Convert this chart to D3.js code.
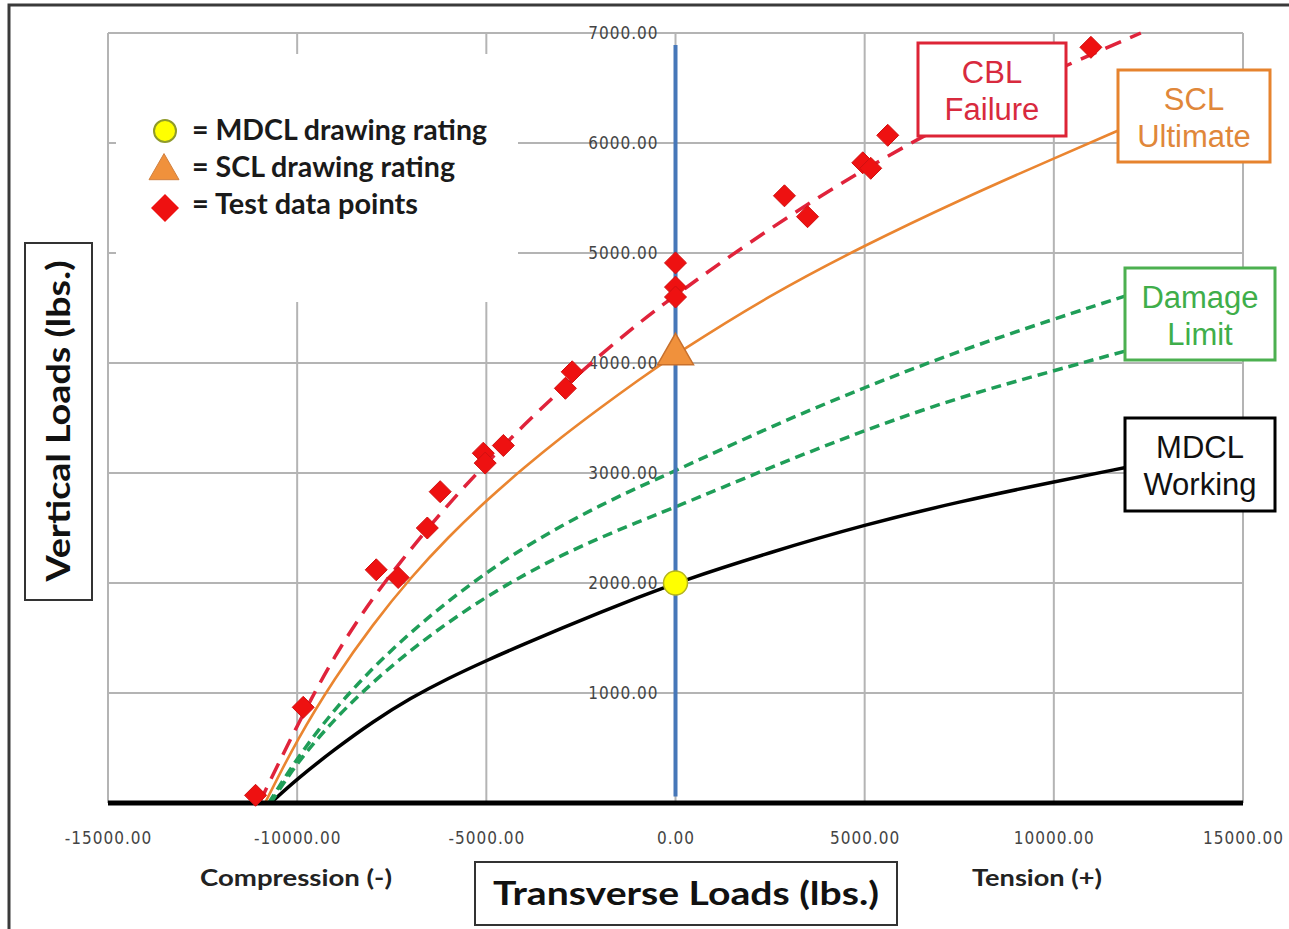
<!DOCTYPE html>
<html>
<head>
<meta charset="utf-8">
<script src="https://cdn.jsdelivr.net/npm/d3@7"></script>
<style>
  body { margin: 0; background: #fff; }
  svg { display: block; }
  .tick text {
    font-family: 'DejaVu Sans Condensed', 'DejaVu Sans', sans-serif;
    font-size: 17px;
    fill: #444;
    letter-spacing: 1px;
  }
</style>
</head>
<body>
<script>
const width = 1289
const height = 929

// axis ticks
const xTicks = [-15000, -10000, -5000, 0, 5000, 10000, 15000]
const yTicks = [1000, 2000, 3000, 4000, 5000, 6000, 7000]

// CBL failure (red dashed)
const cblX = [-11000, -10000, -9000, -8000, -7000, -6000, -5000, -4000, -3000, -2000, -1000, 0, 2500, 5000, 7500, 10000, 12300]
const cblY = [0, 710, 1350, 1870, 2310, 2720, 3090, 3440, 3765, 4070, 4355, 4620, 5230, 5770, 6240, 6660, 7000]

// SCL ultimate (orange)
const sclX = [-10850, -10000, -9000, -8000, -7000, -6000, -5000, -4000, -3000, -2000, -1000, 0, 2500, 5000, 7500, 10000, 11750]
const sclY = [0, 580, 1140, 1625, 2050, 2420, 2750, 3050, 3330, 3590, 3840, 4080, 4620, 5070, 5480, 5860, 6120]

// damage limit, upper and lower (green dashed)
const dmgAX = [-10750, -10000, -9000, -8000, -7000, -6000, -5000, -4000, -3000, -2000, -1000, 0, 2500, 5000, 7500, 10000, 11900]
const dmgAY = [0, 413, 860, 1230, 1553, 1838, 2095, 2323, 2523, 2703, 2869, 3020, 3420, 3780, 4110, 4400, 4610]
const dmgBX = [-10700, -10000, -9000, -8000, -7000, -6000, -5000, -4000, -3000, -2000, -1000, 0, 2500, 5000, 7500, 10000, 11900]
const dmgBY = [0, 370, 770, 1100, 1390, 1645, 1875, 2075, 2255, 2410, 2555, 2690, 3050, 3390, 3690, 3930, 4110]

// MDCL working (black)
const mdclX = [-10700, -10000, -9000, -8000, -7000, -6000, -5000, -4000, -3000, -2000, -1000, 0, 2500, 5000, 7500, 10000, 11900]
const mdclY = [0, 220, 490, 740, 955, 1135, 1295, 1445, 1590, 1732, 1868, 2000, 2280, 2530, 2740, 2920, 3050]

// test data points
const testX = [-11100, -9840, -7910, -7330, -6560, -6220, -5080, -5030, -4550, -2910, -2730, 0, 0, 0, 2880, 3490, 4950, 5160, 5610, 10980]
const testY = [70, 870, 2120, 2050, 2500, 2830, 3180, 3090, 3250, 3770, 3920, 4910, 4690, 4600, 5520, 5330, 5820, 5770, 6070, 6870]

// drawing ratings
const mdclRating = [0, 2000]
const sclRating = [0, 4080]

// vertical axis bar at x = 0
const zeroBar = [60, 6890]

const legendItems = ['= MDCL drawing rating', '= SCL drawing rating', '= Test data points']

const zip = (xs, ys) => xs.map((v, i) => [v, ys[i]])

const svg = d3.select('body').append('svg')
  .attr('width', width)
  .attr('height', height)

const x = d3.scaleLinear().domain([-15000, 15000]).range([108, 1243])
const y = d3.scaleLinear().domain([0, 7000]).range([803, 33])

// outer frame (cut at right and bottom)
svg.append('path')
  .attr('d', `M9,${height} V5 H${width}`)
  .attr('fill', 'none')
  .attr('stroke', '#3a3a3a')
  .attr('stroke-width', 3)

// grid
const grid = svg.append('g').attr('stroke', '#b4b4b4').attr('stroke-width', 2)
grid.selectAll('.h')
  .data(yTicks)
  .enter().append('line')
    .attr('x1', x(-15000)).attr('x2', x(15000))
    .attr('y1', d => y(d)).attr('y2', d => y(d))
grid.selectAll('.v')
  .data(xTicks)
  .enter().append('line')
    .attr('x1', d => x(d)).attr('x2', d => x(d))
    .attr('y1', y(7000)).attr('y2', y(0))

// white patch behind the legend
svg.append('rect')
  .attr('x', 116).attr('y', 54)
  .attr('width', 402).attr('height', 248)
  .attr('fill', '#fff')

// axes
const xAxis = svg.append('g')
  .attr('transform', `translate(0,${y(0)})`)
  .call(d3.axisBottom(x).tickValues(xTicks).tickSize(0).tickPadding(29).tickFormat(d => d.toFixed(2)))
xAxis.select('.domain').remove()

const yAxis = svg.append('g')
  .attr('transform', `translate(${x(0)},0)`)
  .call(d3.axisLeft(y).tickValues(yTicks).tickSize(0).tickPadding(17).tickFormat(d => d.toFixed(2)))
yAxis.select('.domain').remove()

// curves
const line = d3.line()
  .x(d => x(d[0]))
  .y(d => y(d[1]))
  .curve(d3.curveBasis)

const curves = [
  { pts: zip(mdclX, mdclY), color: '#000', w: 3.5, dash: null },
  { pts: zip(dmgBX, dmgBY), color: '#1f9e58', w: 3.5, dash: '10,6' },
  { pts: zip(dmgAX, dmgAY), color: '#1f9e58', w: 3.5, dash: '10,6' },
  { pts: zip(sclX, sclY), color: '#ea8530', w: 2.6, dash: null },
  { pts: zip(cblX, cblY), color: '#e0233b', w: 3.5, dash: '17,10' }
]

svg.selectAll('.curve')
  .data(curves)
  .enter().append('path')
    .attr('class', 'curve')
    .attr('d', d => line(d.pts))
    .attr('fill', 'none')
    .attr('stroke', d => d.color)
    .attr('stroke-width', d => d.w)
    .attr('stroke-dasharray', d => d.dash)

// baseline
svg.append('line')
  .attr('x1', x(-15000)).attr('x2', x(15000))
  .attr('y1', y(0)).attr('y2', y(0))
  .attr('stroke', '#000')
  .attr('stroke-width', 5)

// blue bar at zero
svg.append('line')
  .attr('x1', x(0)).attr('x2', x(0))
  .attr('y1', y(zeroBar[0])).attr('y2', y(zeroBar[1]))
  .attr('stroke', '#4677b8')
  .attr('stroke-width', 4)

// markers
const diamond = r => `M0,${-r} L${r},0 L0,${r} L${-r},0 Z`
const triangle = s => `M0,${-s * 0.58} L${s / 2},${s * 0.29} L${-s / 2},${s * 0.29} Z`

svg.selectAll('.test')
  .data(zip(testX, testY))
  .enter().append('path')
    .attr('class', 'test')
    .attr('d', diamond(11))
    .attr('transform', d => `translate(${x(d[0])},${y(d[1])})`)
    .attr('fill', '#ee1111')
    .attr('stroke', '#d01010')
    .attr('stroke-width', 1)

svg.append('path')
  .attr('d', triangle(36))
  .attr('transform', `translate(${x(sclRating[0])},${y(sclRating[1])})`)
  .attr('fill', '#f0913c')
  .attr('stroke', '#c8702c')
  .attr('stroke-width', 1.5)

svg.append('circle')
  .attr('cx', x(mdclRating[0]))
  .attr('cy', y(mdclRating[1]))
  .attr('r', 12)
  .attr('fill', '#ffff00')
  .attr('stroke', '#b5b51e')
  .attr('stroke-width', 1.5)

// legend
const legend = svg.append('g')
legend.append('circle')
  .attr('cx', 165).attr('cy', 131).attr('r', 11)
  .attr('fill', '#ffff00').attr('stroke', '#8f9a2a').attr('stroke-width', 2)
legend.append('path')
  .attr('d', triangle(30))
  .attr('transform', 'translate(164,171)')
  .attr('fill', '#f0913c').attr('stroke', '#d08040').attr('stroke-width', 1)
legend.append('path')
  .attr('d', diamond(14))
  .attr('transform', 'translate(165,208)')
  .attr('fill', '#ee1111')

const legendWidths = [295, 263, 226]
legend.selectAll('text')
  .data(legendItems)
  .enter().append('text')
    .attr('x', 192)
    .attr('y', (d, i) => 140 + i * 37)
    .attr('textLength', (d, i) => legendWidths[i])
    .attr('lengthAdjust', 'spacingAndGlyphs')
    .style('font-family', 'Lato, "Liberation Sans", sans-serif')
    .style('font-weight', 'bold')
    .style('font-size', '28px')
    .style('fill', '#1a1a1a')
    .text(d => d)

// labelled boxes on the right
const boxes = [
  { x: 918, y: 43, w: 148, h: 93, lines: ['CBL', 'Failure'], stroke: '#dd2436', fill: '#d82a3e' },
  { x: 1118, y: 70, w: 152, h: 92, lines: ['SCL', 'Ultimate'], stroke: '#e6832e', fill: '#e0873a' },
  { x: 1125, y: 268, w: 150, h: 92, lines: ['Damage', 'Limit'], stroke: '#4cb050', fill: '#3fae4a' },
  { x: 1125, y: 418, w: 150, h: 93, lines: ['MDCL', 'Working'], stroke: '#000', fill: '#111' }
]

const box = svg.selectAll('.box')
  .data(boxes)
  .enter().append('g')
    .attr('class', 'box')
    .attr('transform', d => `translate(${d.x},${d.y})`)
box.append('rect')
  .attr('width', d => d.w)
  .attr('height', d => d.h)
  .attr('fill', '#fff')
  .attr('stroke', d => d.stroke)
  .attr('stroke-width', 3)
box.each(function (d) {
  d3.select(this).selectAll('text')
    .data(d.lines)
    .enter().append('text')
      .attr('x', d.w / 2)
      .attr('y', (t, i) => 40 + i * 37)
      .attr('text-anchor', 'middle')
      .style('font-family', '"Liberation Sans", Arial, sans-serif')
      .style('font-size', '31px')
      .style('fill', d.fill)
      .text(t => t)
})

// axis titles
svg.append('rect')
  .attr('x', 25).attr('y', 243).attr('width', 67).attr('height', 357)
  .attr('fill', '#fff').attr('stroke', '#333').attr('stroke-width', 2)
svg.append('text')
  .attr('transform', 'translate(70,421) rotate(-90)')
  .attr('text-anchor', 'middle')
  .attr('textLength', 321)
  .attr('lengthAdjust', 'spacingAndGlyphs')
  .style('font-family', 'Lato, "Liberation Sans", sans-serif')
  .style('font-weight', 'bold')
  .style('font-size', '33px')
  .style('fill', '#111')
  .text('Vertical Loads (lbs.)')

svg.append('rect')
  .attr('x', 475).attr('y', 862).attr('width', 422).attr('height', 63)
  .attr('fill', '#fff').attr('stroke', '#333').attr('stroke-width', 2)
svg.append('text')
  .attr('x', 686).attr('y', 905)
  .attr('text-anchor', 'middle')
  .attr('textLength', 386)
  .attr('lengthAdjust', 'spacingAndGlyphs')
  .style('font-family', 'Lato, "Liberation Sans", sans-serif')
  .style('font-weight', 'bold')
  .style('font-size', '33px')
  .style('fill', '#111')
  .text('Transverse Loads (lbs.)')

svg.append('text')
  .attr('x', 296).attr('y', 886)
  .attr('text-anchor', 'middle')
  .attr('textLength', 192)
  .attr('lengthAdjust', 'spacingAndGlyphs')
  .style('font-family', 'Lato, "Liberation Sans", sans-serif')
  .style('font-weight', 'bold')
  .style('font-size', '23px')
  .style('fill', '#222')
  .text('Compression (-)')

svg.append('text')
  .attr('x', 1037).attr('y', 886)
  .attr('text-anchor', 'middle')
  .attr('textLength', 130)
  .attr('lengthAdjust', 'spacingAndGlyphs')
  .style('font-family', 'Lato, "Liberation Sans", sans-serif')
  .style('font-weight', 'bold')
  .style('font-size', '23px')
  .style('fill', '#222')
  .text('Tension (+)')
</script>
</body>
</html>
